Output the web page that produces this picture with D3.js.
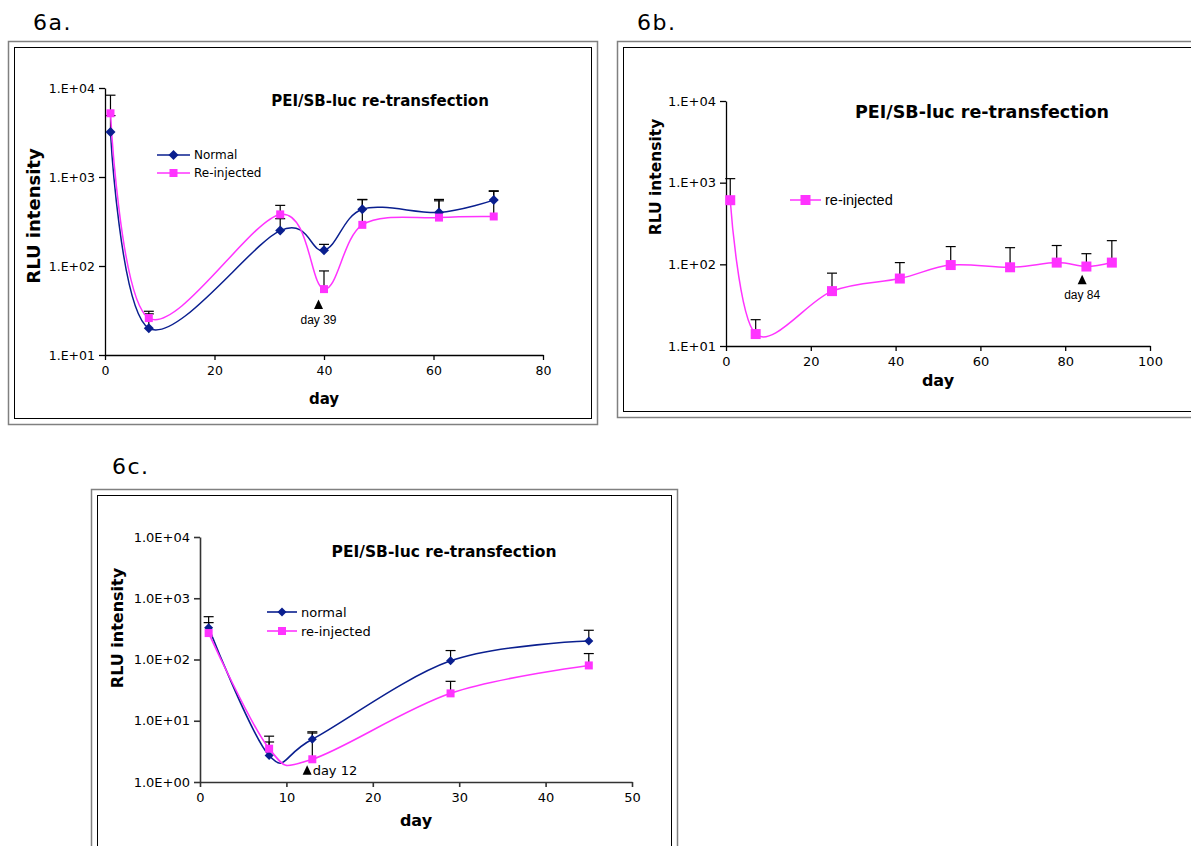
<!DOCTYPE html>
<html><head><meta charset="utf-8">
<script src="https://cdn.jsdelivr.net/npm/d3@7/dist/d3.min.js"></script>
<style>body{margin:0;background:#fff}svg{display:block}</style>
</head><body>
<svg id="c" width="1191" height="846"></svg>
<script>
// ---------- Data ----------
// Panel 6a
const daysA = [1, 8, 32, 40, 47, 61, 71];
const normalA = [3200, 20, 250, 150, 435, 400, 550];
const normalAUpper = [4900, 29, 340, 175, 560, 560, 700];
const reinjA = [5200, 26, 380, 55, 290, 350, 360];
const reinjAUpper = [8300, 31, 480, 88, 555, 540, 690];
const xTicksA = [0, 20, 40, 60, 80];
const yTicksA = [10, 100, 1000, 10000];
const yLabelsA = ["1.E+01", "1.E+02", "1.E+03", "1.E+04"];
const legendA = ["Normal", "Re-injected"];
const markA = {day: 39, value: 36, text: "day 39"};

// Panel 6b
const daysB = [1, 7, 25, 41, 53, 67, 78, 85, 91];
const reinjB = [610, 14, 47, 67, 98, 92, 105, 94, 105];
const reinjBUpper = [1120, 21, 78, 105, 165, 160, 170, 135, 195];
const xTicksB = [0, 20, 40, 60, 80, 100];
const yTicksB = [10, 100, 1000, 10000];
const yLabelsB = ["1.E+01", "1.E+02", "1.E+03", "1.E+04"];
const legendB = ["re-injected"];
const markB = {day: 84, value: 63, text: "day 84"};

// Panel 6c
const daysC = [1, 8, 13, 29, 45];
const normalC = [330, 2.7, 5.0, 95, 200];
const normalCUpper = [500, 4.5, 6.3, 140, 300];
const reinjC = [270, 3.5, 2.35, 28, 80];
const reinjCUpper = [400, 5.6, 6.6, 44, 125];
const xTicksC = [0, 10, 20, 30, 40, 50];
const yTicksC = [1, 10, 100, 1000, 10000];
const yLabelsC = ["1.0E+00", "1.0E+01", "1.0E+02", "1.0E+03", "1.0E+04"];
const legendC = ["normal", "re-injected"];
const markC = {day: 12.4, value: 1.5, text: "day 12"};

const TITLE = "PEI/SB-luc re-transfection";
const NAVY = "#0a1f8f";
const PINK = "#ff33ff";

const svg = d3.select("#c");

function diamondPath(s){ return `M0,${-s}L${s},0L0,${s}L${-s},0Z`; }

function panel(o){
  const g = svg.append("g");
  // frames
  g.append("rect").attr("x",o.frame[0]+0.5).attr("y",o.frame[1]+0.5)
    .attr("width",o.frame[2]).attr("height",o.frame[3])
    .attr("fill","none").attr("stroke","#808080").attr("stroke-width",1.5);
  g.append("rect").attr("x",o.frame[0]+6.5).attr("y",o.frame[1]+6.5)
    .attr("width",o.frame[2]-12).attr("height",o.frame[3]-12)
    .attr("fill","none").attr("stroke","#000").attr("stroke-width",1);
  // panel label
  g.append("text").attr("x",o.label[0]).attr("y",o.label[1])
    .attr("font-family","DejaVu Sans").attr("font-size",22).attr("letter-spacing",1.5)
    .text(o.labelText);

  const x = d3.scaleLinear().domain(o.xDomain).range(o.xRange);
  const y = d3.scaleLog().domain(o.yDomain).range(o.yRange);

  // axes
  const ax = g.append("g").attr("transform",`translate(0,${o.yRange[0]})`)
    .call(d3.axisBottom(x).tickValues(o.xTicks).tickSize(5).tickSizeOuter(0).tickPadding(6));
  const ay = g.append("g").attr("transform",`translate(${o.xRange[0]},0)`)
    .call(d3.axisLeft(y).tickValues(o.yTicks).tickSize(6).tickSizeOuter(0).tickPadding(4)
      .tickFormat((d,i)=>o.yLabels[i]));
  [ax,ay].forEach(a=>{
    a.selectAll("path,line").attr("stroke",o.axisColor).attr("stroke-width",o.axisWidth);
    a.selectAll("text").attr("font-family","DejaVu Sans").attr("font-size",o.tickFont).attr("fill","#000");
  });

  // axis titles
  g.append("text").attr("x",(o.xRange[0]+o.xRange[1])/2).attr("y",o.xTitleY)
    .attr("text-anchor","middle").attr("font-family","DejaVu Sans").attr("font-weight","bold")
    .attr("font-size",o.axisTitleFont).text("day");
  g.append("text").attr("transform",`translate(${o.yTitle[0]},${o.yTitle[1]}) rotate(-90)`)
    .attr("text-anchor","middle").attr("font-family","DejaVu Sans").attr("font-weight","bold")
    .attr("font-size",o.yTitleFont).text("RLU intensity");
  // chart title
  g.append("text").attr("x",o.titlePos[0]).attr("y",o.titlePos[1]).attr("text-anchor","middle")
    .attr("font-family","DejaVu Sans").attr("font-weight","bold").attr("font-size",o.titleFont)
    .text(TITLE);

  const line = d3.line().x(d=>x(d[0])).y(d=>y(d[1])).curve(d3.curveCardinal.tension(0));

  o.series.forEach(s=>{
    const pts = s.days.map((d,i)=>[d,s.values[i],s.upper[i]]);
    // error bars
    const eb = g.append("g").attr("stroke","#000").attr("stroke-width",1.2);
    pts.forEach(p=>{
      eb.append("line").attr("x1",x(p[0])).attr("x2",x(p[0])).attr("y1",y(p[1])).attr("y2",y(p[2]));
      eb.append("line").attr("x1",x(p[0])-o.cap).attr("x2",x(p[0])+o.cap).attr("y1",y(p[2])).attr("y2",y(p[2]));
    });
    g.append("path").datum(pts).attr("d",line).attr("fill","none")
      .attr("stroke",s.color).attr("stroke-width",s.lw);
  });
  o.series.forEach(s=>{
    s.days.forEach((d,i)=>{
      const mx = x(d), my = y(s.values[i]);
      if(s.marker==="diamond"){
        g.append("path").attr("d",diamondPath(s.ms)).attr("transform",`translate(${mx},${my})`).attr("fill",s.color);
      } else {
        g.append("rect").attr("x",mx-s.ms).attr("y",my-s.ms).attr("width",2*s.ms).attr("height",2*s.ms).attr("fill",s.color);
      }
    });
  });

  // legend
  o.series.forEach((s,i)=>{
    const ly = o.legend[1] + i*o.legendGap;
    const lx = o.legend[0];
    g.append("line").attr("x1",lx).attr("x2",lx+o.legendLen).attr("y1",ly).attr("y2",ly)
      .attr("stroke",s.color).attr("stroke-width",s.lw);
    const cx = lx+o.legendLen/2;
    if(s.marker==="diamond"){
      g.append("path").attr("d",diamondPath(s.ms)).attr("transform",`translate(${cx},${ly})`).attr("fill",s.color);
    } else {
      g.append("rect").attr("x",cx-s.ms).attr("y",ly-s.ms).attr("width",2*s.ms).attr("height",2*s.ms).attr("fill",s.color);
    }
    g.append("text").attr("x",lx+o.legendLen+4).attr("y",ly).attr("dy","0.35em")
      .attr("font-family",o.legendFamily).attr("font-size",o.legendFont).text(s.name);
  });

  // annotation arrow
  const mx = x(o.mark.day), my = y(o.mark.value);
  const t = o.triSize;
  g.append("path").attr("d",`M${mx},${my-t}L${mx+t*0.75},${my+t*0.6}L${mx-t*0.75},${my+t*0.6}Z`).attr("fill","#000");
  if(o.markSide){
    g.append("text").attr("x",mx+t*0.75+1).attr("y",my+t*0.6).attr("font-family",o.markFamily)
      .attr("font-size",o.markFont).text(o.mark.text);
  } else {
    g.append("text").attr("x",mx).attr("y",my+t*0.6+o.markFont+3).attr("text-anchor","middle")
      .attr("font-family",o.markFamily).attr("font-size",o.markFont).text(o.mark.text);
  }
}

panel({
  frame:[8,41,589,383], label:[33,30], labelText:"6a.",
  xDomain:[0,80], xRange:[105,543], yDomain:[10,10000], yRange:[355,88],
  xTicks:xTicksA, yTicks:yTicksA, yLabels:yLabelsA,
  axisColor:"#000", axisWidth:1.3, tickFont:12.5,
  xTitleY:404, yTitle:[40,216], yTitleFont:18, axisTitleFont:15, titlePos:[380,106], titleFont:15,
  cap:5,
  series:[
    {name:legendA[0], days:daysA, values:normalA, upper:normalAUpper, color:NAVY, marker:"diamond", ms:5, lw:1.5},
    {name:legendA[1], days:daysA, values:reinjA, upper:reinjAUpper, color:PINK, marker:"square", ms:4, lw:1.5}
  ],
  legend:[157,155], legendGap:18, legendLen:33, legendFont:12, legendFamily:"DejaVu Sans",
  mark:markA, triSize:6, markFont:12, markFamily:"Liberation Sans", markSide:false
});

panel({
  frame:[617,41,600,376], label:[637,30], labelText:"6b.",
  xDomain:[0,100], xRange:[726,1150], yDomain:[10,10000], yRange:[346,101],
  xTicks:xTicksB, yTicks:yTicksB, yLabels:yLabelsB,
  axisColor:"#000", axisWidth:1.3, tickFont:13,
  xTitleY:386, yTitle:[661,177], yTitleFont:15.5, axisTitleFont:16, titlePos:[982,118], titleFont:17.5,
  cap:5,
  series:[
    {name:legendB[0], days:daysB, values:reinjB, upper:reinjBUpper, color:PINK, marker:"square", ms:5, lw:1.5}
  ],
  legend:[790,200], legendGap:18, legendLen:31, legendFont:14.5, legendFamily:"Liberation Sans",
  mark:markB, triSize:6, markFont:12, markFamily:"Liberation Sans", markSide:false
});

panel({
  frame:[91,489,586,400], label:[112,474], labelText:"6c.",
  xDomain:[0,50], xRange:[200,632], yDomain:[1,10000], yRange:[782,537],
  xTicks:xTicksC, yTicks:yTicksC, yLabels:yLabelsC,
  axisColor:"#333", axisWidth:1.6, tickFont:13,
  xTitleY:826, yTitle:[123,628], yTitleFont:16, axisTitleFont:16, titlePos:[444,557], titleFont:15.5,
  cap:5,
  series:[
    {name:legendC[0], days:daysC, values:normalC, upper:normalCUpper, color:NAVY, marker:"diamond", ms:4.5, lw:1.6},
    {name:legendC[1], days:daysC, values:reinjC, upper:reinjCUpper, color:PINK, marker:"square", ms:4, lw:1.6}
  ],
  legend:[267,612], legendGap:19, legendLen:30, legendFont:13, legendFamily:"DejaVu Sans",
  mark:markC, triSize:6, markFont:13, markFamily:"DejaVu Sans", markSide:true
});
</script>
</body></html>
